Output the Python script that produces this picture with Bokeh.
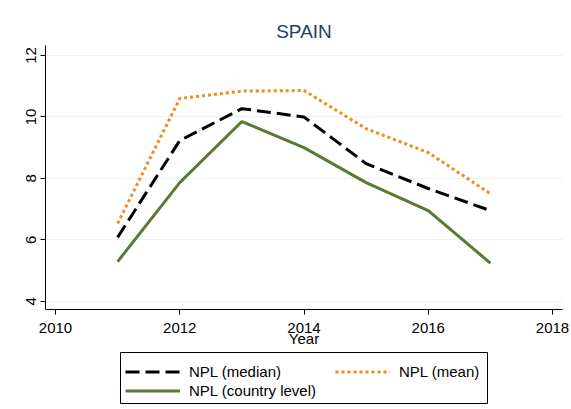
from bokeh.plotting import figure
from bokeh.models import Legend, LegendItem, Range1d, FixedTicker
from bokeh.embed import file_html
from bokeh.resources import INLINE

years = [2011, 2012, 2013, 2014, 2015, 2016, 2017]
npl_median = [6.08, 9.23, 10.27, 10.0, 8.48, 7.67, 6.95]
npl_mean = [6.53, 10.6, 10.84, 10.86, 9.62, 8.84, 7.5]
npl_country = [5.29, 7.86, 9.85, 9.0, 7.86, 6.95, 5.24]
x_ticks = [2010, 2012, 2014, 2016, 2018]
y_ticks = [4, 6, 8, 10, 12]

FONT = "Liberation Sans"
C_MED = "black"
C_MEAN = "#f08c13"
C_CTRY = "#5a7a33"

p = figure(width=571, height=350, output_backend="svg", toolbar_location=None,
           x_range=Range1d(2009.839, 2018.161), y_range=Range1d(3.73, 12.326),
           min_border_left=45, min_border_right=9, min_border_top=45, min_border_bottom=41)
p.background_fill_color = "white"
p.border_fill_color = "white"
p.outline_line_color = None

p.title.text = "SPAIN"
p.title.align = "center"
p.title.text_font = FONT
p.title.text_font_size = "19px"
p.title.text_font_style = "normal"
p.title.text_color = "#283a6e"
p.title.standoff = 8

p.line(years, npl_median, line_color=C_MED, line_width=3, line_dash="14 6")
p.line(years, npl_mean, line_color=C_MEAN, line_width=3, line_dash="3 3")
p.line(years, npl_country, line_color=C_CTRY, line_width=3)

p.xaxis.ticker = FixedTicker(ticks=x_ticks)
p.yaxis.ticker = FixedTicker(ticks=y_ticks)
p.xaxis.axis_label = "Year"
for ax in (p.xaxis, p.yaxis):
    ax.axis_line_color = "black"
    ax.axis_line_width = 1
    ax.major_tick_line_color = "black"
    ax.major_tick_out = 5
    ax.major_tick_in = 0
    ax.minor_tick_line_color = None
    ax.major_label_text_font = FONT
    ax.major_label_text_font_size = "15px"
    ax.major_label_text_color = "black"
    ax.axis_label_text_font = FONT
    ax.axis_label_text_font_size = "15px"
    ax.axis_label_text_font_style = "normal"
    ax.axis_label_text_color = "black"
p.xaxis.major_label_standoff = 8
p.xaxis.axis_label_standoff = -6
p.yaxis.major_label_orientation = "vertical"
p.yaxis.major_label_standoff = 4

p.xgrid.grid_line_color = None
p.ygrid.grid_line_color = "#eaf2f3"
p.ygrid.grid_line_width = 1

# legend panel: its frame outline is the legend box (series drawn out of view)
q = figure(width=571, height=59, output_backend="svg", toolbar_location=None,
           x_range=Range1d(0, 1), y_range=Range1d(0, 1),
           x_axis_location=None, y_axis_location=None,
           min_border_left=120, min_border_right=84, min_border_top=2, min_border_bottom=6)
q.grid.visible = False
q.outline_line_color = "black"
q.outline_line_width = 1
q.background_fill_color = "white"
q.border_fill_color = "white"

lr1 = q.line(years, npl_median, line_color=C_MED, line_width=3, line_dash="14 6")
lr2 = q.line(years, npl_mean, line_color=C_MEAN, line_width=3, line_dash="3 3")
lr3 = q.line(years, npl_country, line_color=C_CTRY, line_width=3)


def style(lg):
    lg.border_line_color = None
    lg.background_fill_alpha = 0
    lg.label_text_font = FONT
    lg.label_text_font_size = "15px"
    lg.label_text_color = "black"
    lg.glyph_width = 55
    lg.glyph_height = 17
    lg.label_height = 17
    lg.label_standoff = 9
    lg.spacing = 2
    lg.padding = 0
    lg.margin = 0


leg_a = Legend(items=[LegendItem(label="NPL (median)", renderers=[lr1]),
                      LegendItem(label="NPL (country level)", renderers=[lr3])],
               location=(5, 4))
leg_b = Legend(items=[LegendItem(label="NPL (mean)", renderers=[lr2])],
               location=(215, 23))
style(leg_a)
style(leg_b)
q.add_layout(leg_a, "center")
q.add_layout(leg_b, "center")

open("out.html", "w").write(file_html([p, q], INLINE))
